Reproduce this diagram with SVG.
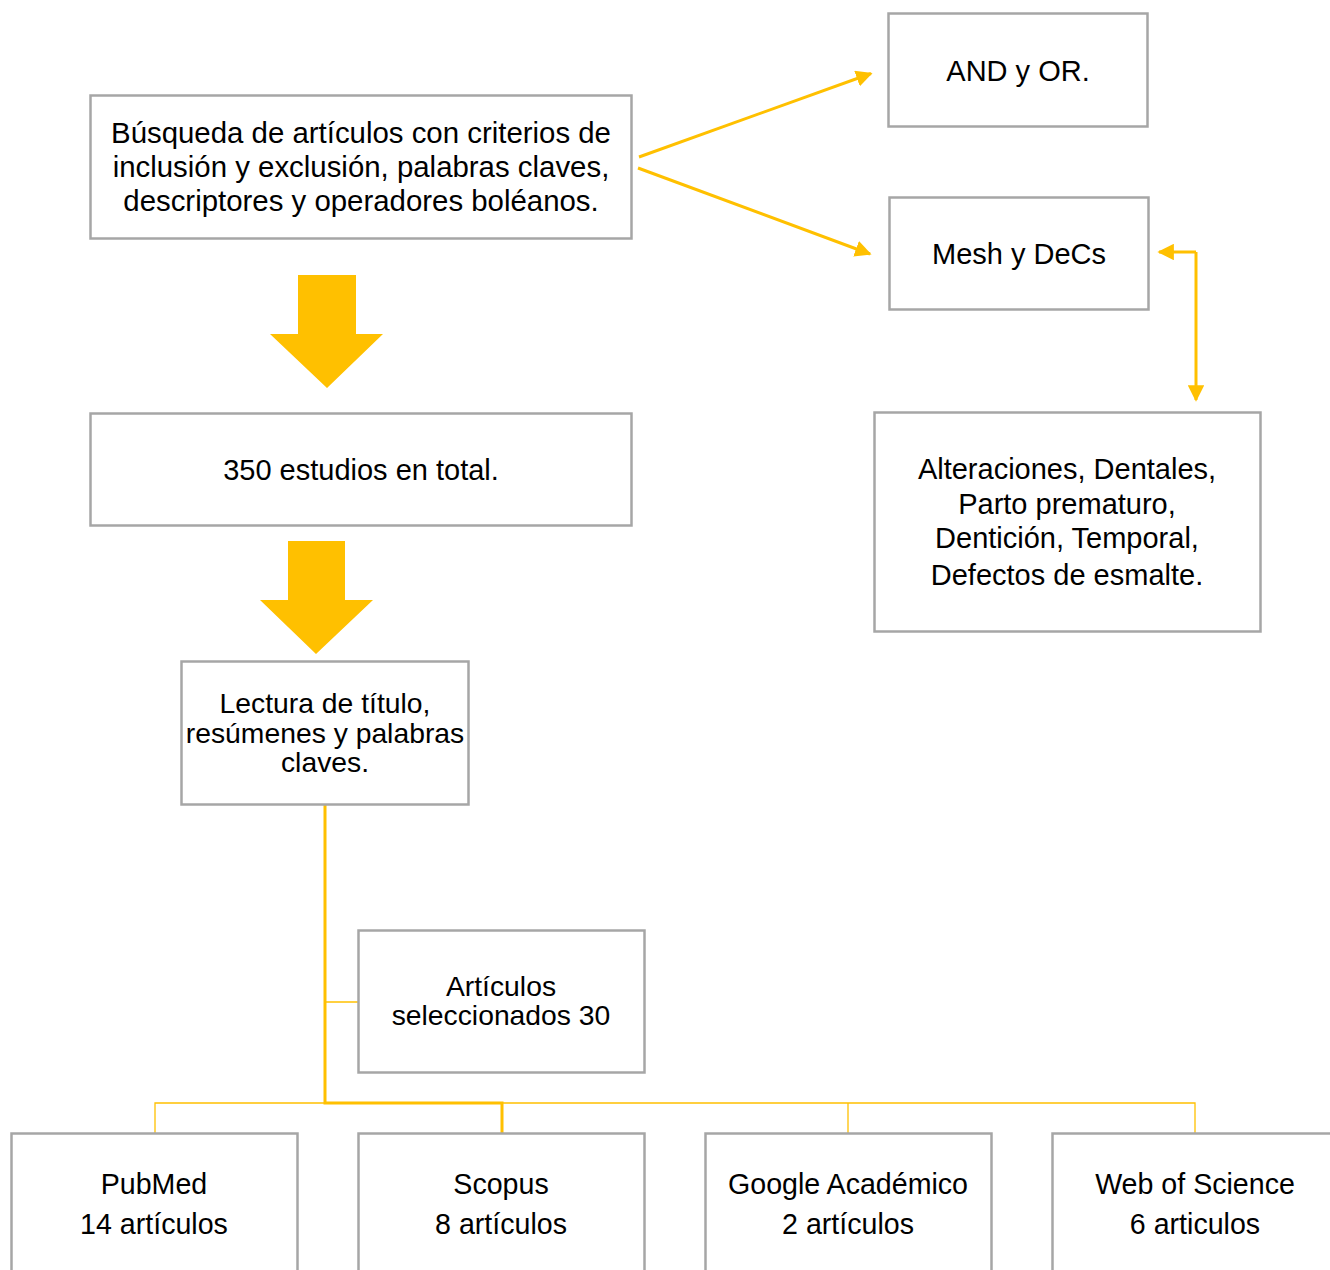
<svg xmlns="http://www.w3.org/2000/svg" width="1330" height="1270" viewBox="0 0 1330 1270">
<style>
.box{fill:#fff;stroke:#A6A6A6;stroke-width:2.5}
.t{font-family:"Liberation Sans",Arial,sans-serif;font-size:29px;fill:#000;text-anchor:middle}
.s{font-size:28.3px}
.b{font-size:28.6px}
.l{font-size:29.4px}
.c{stroke:#FFC000;fill:none;stroke-width:3}
.thin{stroke:#FFC000;fill:none;stroke-width:1.3}
.big{fill:#FFC000}
</style>
<defs>
<marker id="ah" viewBox="0 0 10 10" refX="9" refY="5" markerWidth="5.5" markerHeight="5.5" orient="auto" markerUnits="strokeWidth">
<path d="M0,0 L10,5 L0,10 z" fill="#FFC000"/>
</marker>
</defs>
<rect width="1330" height="1270" fill="#fff"/>
<g id="connectors">
<line class="c" x1="639" y1="157" x2="871" y2="73.5" marker-end="url(#ah)"/>
<line class="c" x1="638" y1="168" x2="870" y2="254" marker-end="url(#ah)"/>
<path class="c" d="M1196,252 L1159,252" marker-end="url(#ah)"/>
<path class="c" d="M1196,252 L1196,400" marker-end="url(#ah)"/>
<path class="c" d="M325,805 V1103 H502 V1133"/>
<path class="thin" d="M325,1002 H358"/>
<path class="thin" d="M155,1133 V1103 H1195 V1133"/>
<path class="thin" d="M848,1103 V1133"/>
<polygon class="big" points="298,275 356,275 356,334 383,334 327,388 270,334 298,334"/>
<polygon class="big" points="288,541 345,541 345,600 373,600 316,654 260,600 288,600"/>
</g>
<g id="n1"><rect class="box" x="90.5" y="95.5" width="541" height="143"/>
<text class="t l" x="361" y="143">Búsqueda de artículos con criterios de</text>
<text class="t l" x="361" y="177">inclusión y exclusión, palabras claves,</text>
<text class="t l" x="361" y="211">descriptores y operadores boléanos.</text></g>
<g id="n2"><rect class="box" x="888.5" y="13.5" width="259" height="113"/>
<text class="t" x="1018" y="81">AND y OR.</text></g>
<g id="n3"><rect class="box" x="889.5" y="197.5" width="259" height="112"/>
<text class="t" x="1019" y="264">Mesh y DeCs</text></g>
<g id="n4"><rect class="box" x="874.5" y="412.5" width="386" height="219"/>
<text class="t" x="1067" y="479">Alteraciones, Dentales,</text>
<text class="t" x="1067" y="514">Parto prematuro,</text>
<text class="t" x="1067" y="548">Dentición, Temporal,</text>
<text class="t" x="1067" y="585">Defectos de esmalte.</text></g>
<g id="n5"><rect class="box" x="90.5" y="413.5" width="541" height="112"/>
<text class="t" x="361" y="480">350 estudios en total.</text></g>
<g id="n6"><rect class="box" x="181.5" y="661.5" width="287" height="143"/>
<text class="t s" x="325" y="713">Lectura de título,</text>
<text class="t s" x="325" y="743">resúmenes y palabras</text>
<text class="t s" x="325" y="772">claves.</text></g>
<g id="n7"><rect class="box" x="358.5" y="930.5" width="286" height="142"/>
<text class="t s" x="501" y="996">Artículos</text>
<text class="t s" x="501" y="1025">seleccionados 30</text></g>
<g id="n8"><rect class="box" x="11.5" y="1133.5" width="286" height="150"/>
<text class="t b" x="154" y="1194">PubMed</text>
<text class="t b" x="154" y="1234">14 artículos</text></g>
<g id="n9"><rect class="box" x="358.5" y="1133.5" width="286" height="150"/>
<text class="t b" x="501" y="1194">Scopus</text>
<text class="t b" x="501" y="1234">8 artículos</text></g>
<g id="n10"><rect class="box" x="705.5" y="1133.5" width="286" height="150"/>
<text class="t b" x="848" y="1194">Google Académico</text>
<text class="t b" x="848" y="1234">2 artículos</text></g>
<g id="n11"><rect class="box" x="1052.5" y="1133.5" width="286" height="150"/>
<text class="t b" x="1195" y="1194">Web of Science</text>
<text class="t b" x="1195" y="1234">6 articulos</text></g>
</svg>
